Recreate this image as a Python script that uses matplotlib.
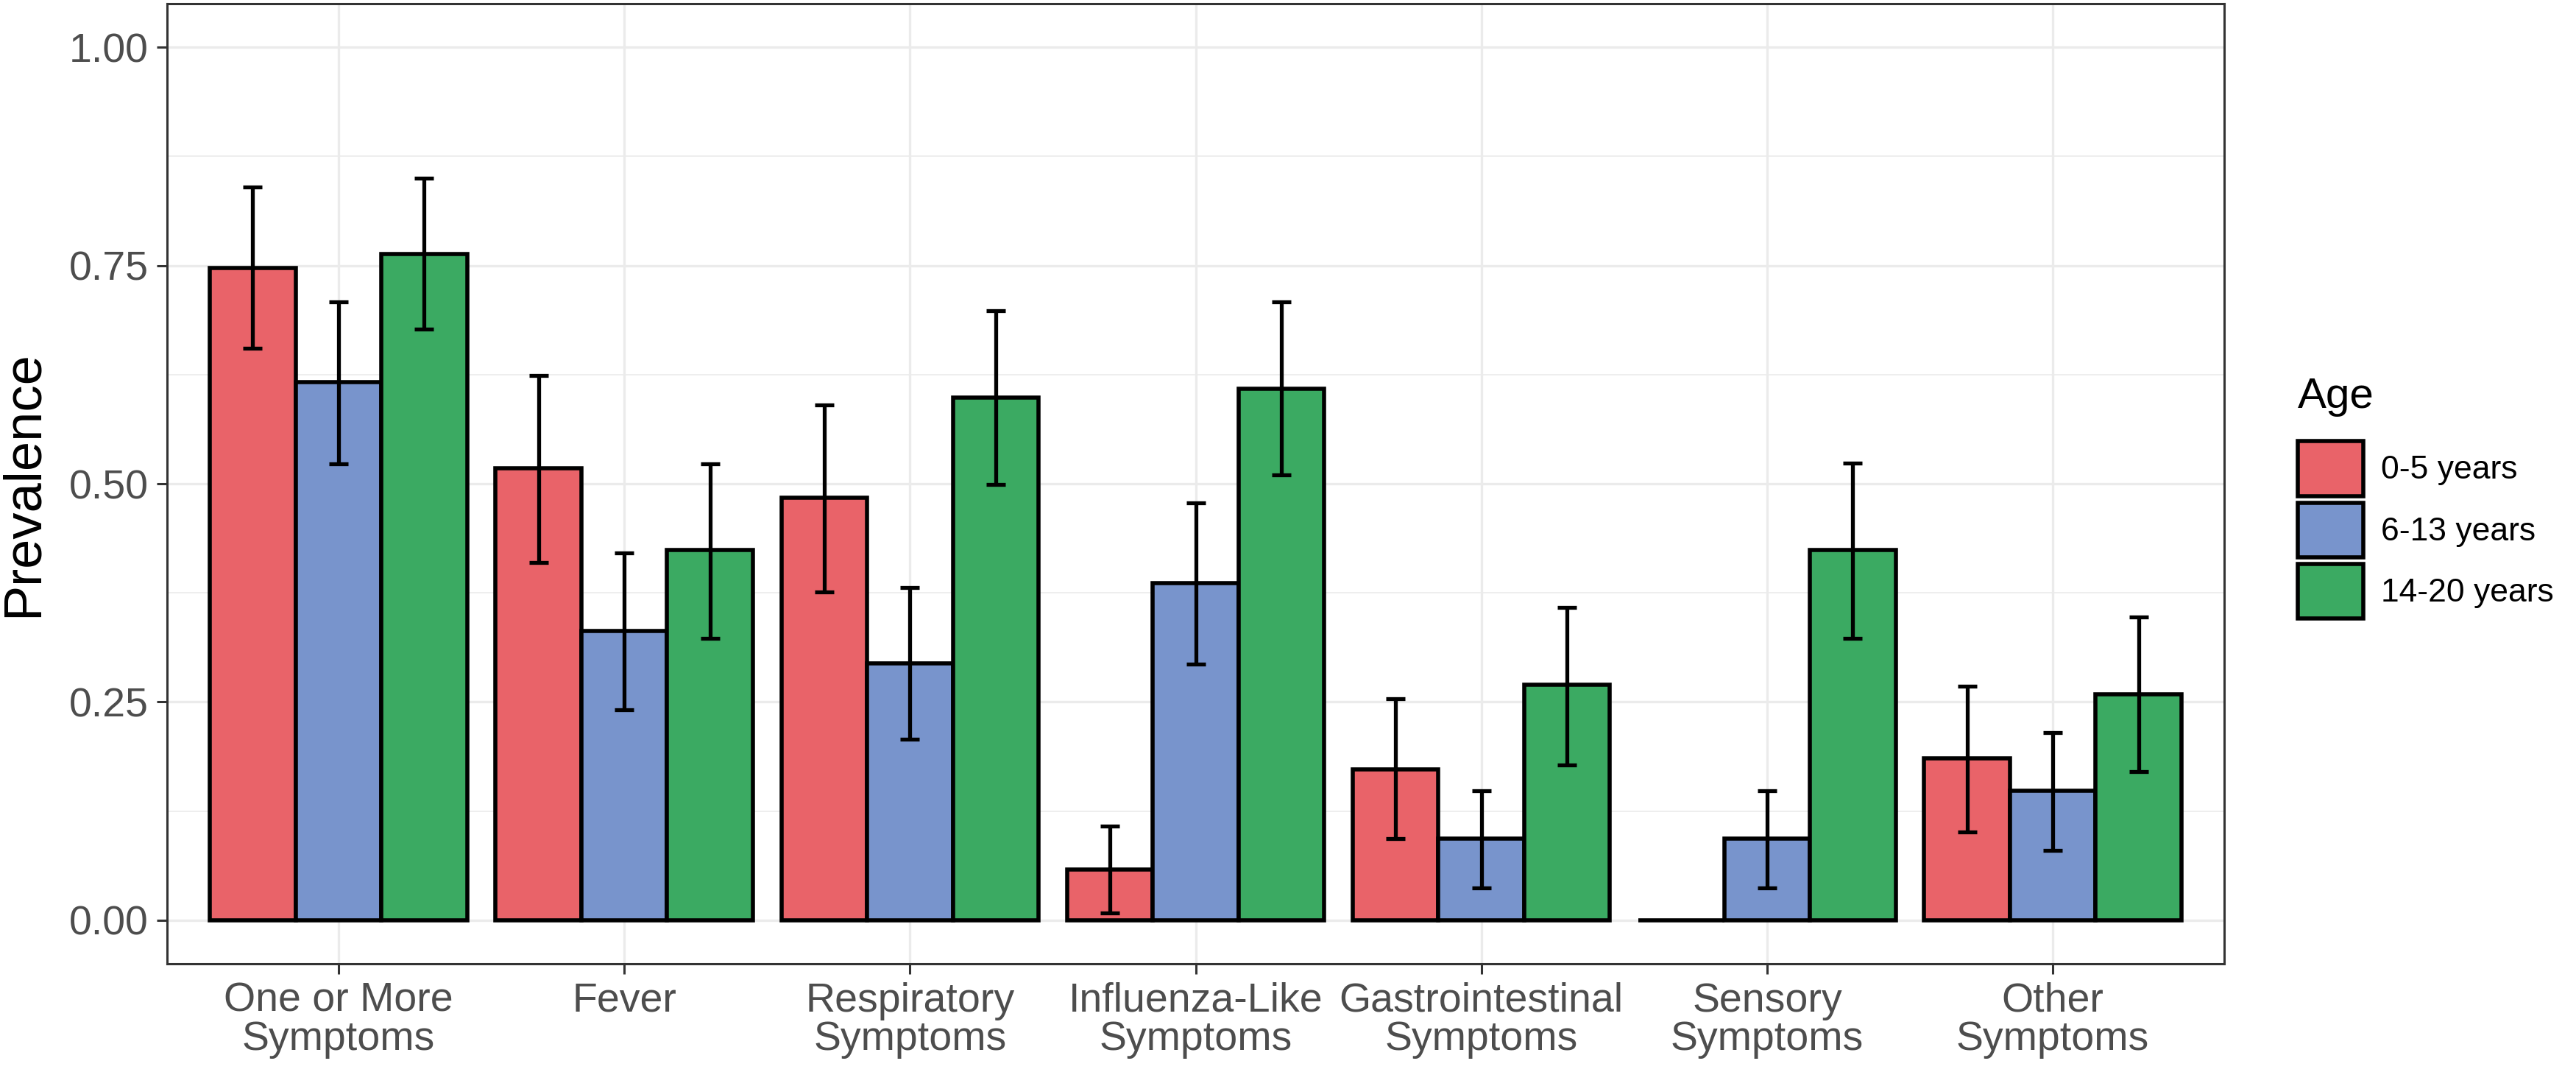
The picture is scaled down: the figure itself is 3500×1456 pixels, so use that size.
import numpy as np
import matplotlib.pyplot as plt
from matplotlib.patches import Patch
from matplotlib.ticker import MultipleLocator

plt.rcParams['font.family'] = ['Liberation Sans', 'DejaVu Sans']

# symptom categories and age groups
categories = ['One or More\nSymptoms', 'Fever', 'Respiratory\nSymptoms',
              'Influenza-Like\nSymptoms', 'Gastrointestinal\nSymptoms',
              'Sensory\nSymptoms', 'Other\nSymptoms']
ages = ['0-5 years', '6-13 years', '14-20 years']
colors = ['#E96369', '#7894CC', '#3BAA62']

# prevalence per age group
prev_0_5 = [0.747, 0.518, 0.484, 0.058, 0.173, 0.000, 0.185]
prev_6_13 = [0.616, 0.331, 0.294, 0.386, 0.093, 0.093, 0.148]
prev_14_20 = [0.763, 0.424, 0.599, 0.609, 0.270, 0.424, 0.259]

# confidence interval bounds
lo_0_5 = [0.655, 0.410, 0.376, 0.008, 0.093, np.nan, 0.101]
hi_0_5 = [0.840, 0.624, 0.590, 0.108, 0.254, np.nan, 0.268]
lo_6_13 = [0.523, 0.241, 0.207, 0.293, 0.037, 0.037, 0.080]
hi_6_13 = [0.708, 0.421, 0.381, 0.478, 0.148, 0.148, 0.215]
lo_14_20 = [0.677, 0.323, 0.499, 0.510, 0.178, 0.323, 0.170]
hi_14_20 = [0.850, 0.523, 0.698, 0.708, 0.358, 0.524, 0.347]

prev = [prev_0_5, prev_6_13, prev_14_20]
lows = [lo_0_5, lo_6_13, lo_14_20]
highs = [hi_0_5, hi_6_13, hi_14_20]

fig = plt.figure(figsize=(17.5, 7.28), dpi=200)
ax = fig.add_axes([227/3500, 1 - 1309/1456, (3022-227)/3500, (1309-5)/1456])

x = np.arange(1, len(categories) + 1)
w = 0.3
for i in range(3):
    xs = x + (i - 1) * w
    vals = np.array(prev[i])
    ax.bar(xs, vals, width=w, color=colors[i], edgecolor='black',
           linewidth=2.0, zorder=3)
    lo = np.array(lows[i])
    hi = np.array(highs[i])
    ok = ~np.isnan(lo)
    ax.errorbar(xs[ok], vals[ok], yerr=[vals[ok] - lo[ok], hi[ok] - vals[ok]],
                fmt='none', ecolor='black', elinewidth=1.9, capsize=4.7,
                capthick=1.9, zorder=4)

ax.set_xlim(0.4, 7.6)
ax.set_ylim(-0.05, 1.05)
ax.set_xticks(x)
ax.set_xticklabels(categories, linespacing=1.0)
ax.yaxis.set_major_locator(MultipleLocator(0.25))
ax.yaxis.set_minor_locator(MultipleLocator(0.125))
ax.set_yticks(np.arange(0, 1.01, 0.25))
ax.set_yticklabels(['0.00', '0.25', '0.50', '0.75', '1.00'])

ax.grid(which='major', color='#EBEBEB', linewidth=1.2, zorder=0)
ax.grid(which='minor', axis='y', color='#EBEBEB', linewidth=0.6, zorder=0)
ax.set_axisbelow(True)
ax.tick_params(which='minor', length=0)
ax.tick_params(which='major', length=5, width=1.1, color='#333333',
               labelcolor='#4D4D4D', labelsize=20, pad=4)
for s in ax.spines.values():
    s.set_color('#333333')
    s.set_linewidth(1.1)

ax.set_ylabel('Prevalence', fontsize=26, labelpad=10)

handles = [Patch(facecolor=c, edgecolor='black', linewidth=2.0) for c in colors]
leg = fig.legend(handles, ages, title='Age', loc='upper left',
                 bbox_to_anchor=(3122/3500, 1 - 512/1456), frameon=False,
                 fontsize=16, title_fontsize=21, handlelength=2.0,
                 handleheight=2.2, handletextpad=0.55, labelspacing=0.2,
                 borderaxespad=0, borderpad=0)
leg._legend_box.align = 'left'
leg._legend_box.sep = 12

fig.savefig('out.png', dpi=200)
